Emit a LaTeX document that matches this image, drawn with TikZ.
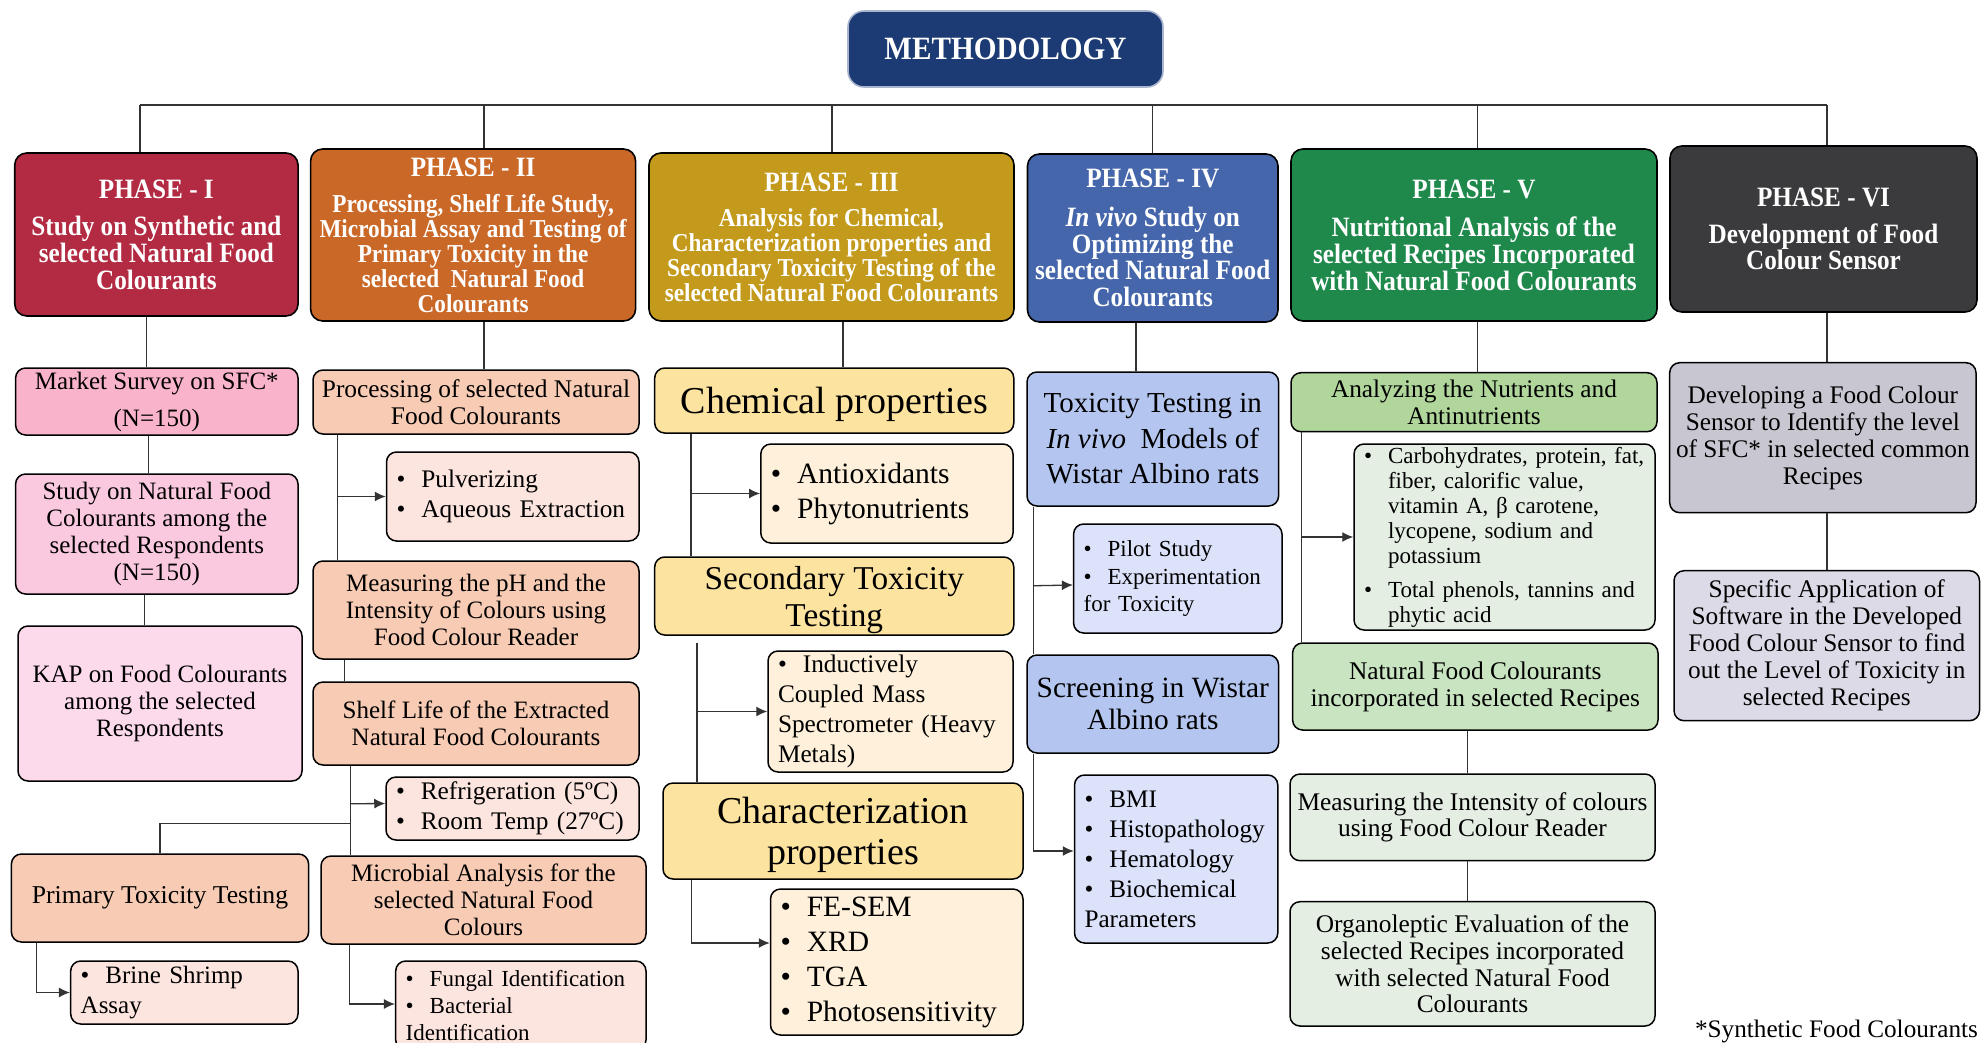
\documentclass[tikz,border=0pt]{standalone}
\usepackage{fontspec}
\setmainfont{Liberation Serif}
\newfontfamily\hdfont[FakeStretch=0.9]{Liberation Serif}
\usetikzlibrary{arrows.meta,calc}

\definecolor{MethBlue}{HTML}{1C3A73}
\definecolor{MethEdge}{HTML}{A9B4CF}
\definecolor{PhOne}{HTML}{B22B43}
\definecolor{PhTwo}{HTML}{CA6828}
\definecolor{PhThree}{HTML}{C39A1B}
\definecolor{PhFour}{HTML}{4566AA}
\definecolor{PhFive}{HTML}{1E894B}
\definecolor{PhSix}{HTML}{3B3B3D}
\definecolor{PinkA}{HTML}{F9B3CB}
\definecolor{PinkB}{HTML}{FBC9DF}
\definecolor{PinkC}{HTML}{FDD9EC}
\definecolor{PeachA}{HTML}{F7CBB4}
\definecolor{PeachB}{HTML}{FCE4DF}
\definecolor{GoldA}{HTML}{FDE3A0}
\definecolor{GoldB}{HTML}{FEF0DA}
\definecolor{BlueA}{HTML}{B4C6EF}
\definecolor{BlueB}{HTML}{DCE2FA}
\definecolor{GreenA}{HTML}{B0D69C}
\definecolor{GreenB}{HTML}{C9E4C1}
\definecolor{GreenC}{HTML}{E4EEE3}
\definecolor{GreyA}{HTML}{C8C7D1}
\definecolor{GreyB}{HTML}{DCDAE6}

\newcommand{\fs}[2]{\fontsize{#1}{#2}\selectfont}
\newcommand{\ph}{\fs{28}{24.8}}
\newcommand{\itm}{\textbullet\hspace{16pt}}
\newcommand{\ind}{\phantom{\textbullet}\hspace{16pt}}

\tikzset{
PhaseBox/.style={draw=black, rounded corners=12pt, line width=1.6pt, text=white, align=center,
        inner sep=2pt, font=\hdfont\bfseries\fs{28}{26.7}},
PhaseBoxSmall/.style={PhaseBox, font=\hdfont\bfseries\fs{25.8}{24.8}},
StepBox/.style={draw=black, rounded corners=10pt, line width=1.5pt, align=center,
        inner sep=2pt, font=\fs{25}{27}},
ListBox/.style={StepBox, align=left, inner xsep=10pt},
FlowLine/.style={draw=black!80, line width=1.3pt},
FlowArrow/.style={FlowLine, -{Latex[length=11pt,width=10pt]}},
}

\begin{document}
\begin{tikzpicture}[x=1pt,y=-1pt]
	\fill[white] (0,0) rectangle (1984,1042);
	\useasboundingbox (0,0) rectangle (1984,1042);

	\node[PhaseBox, fill=MethBlue, draw=MethEdge, rounded corners=16pt, font=\hdfont\bfseries\fs{32.5}{34},
		minimum width=315pt, minimum height=76pt] (meth) at (1005.5,49) {METHODOLOGY};

	% phases
	\node[PhaseBox, fill=PhOne, minimum width=283.3pt, minimum height=163pt] (p1) at (156.4,234.5)
		{PHASE - I\\[11pt]Study on Synthetic and\\selected Natural Food\\Colourants};
	\node[PhaseBoxSmall, fill=PhTwo, minimum width=325pt, minimum height=172pt] (p2) at (473.1,235)
		{{\ph PHASE - II}\\[12pt]Processing, Shelf Life Study,\\Microbial Assay and Testing of\\Primary Toxicity in the\\selected \ Natural Food\\Colourants};
	\node[PhaseBoxSmall, fill=PhThree, minimum width=365pt, minimum height=168pt] (p3) at (831.5,237)
		{{\ph PHASE - III}\\[11pt]Analysis for Chemical,\\Characterization properties and\\Secondary Toxicity Testing of the\\selected Natural Food Colourants};
	\node[PhaseBox, fill=PhFour, minimum width=250.5pt, minimum height=168pt] (p4) at (1152.75,238)
		{PHASE - IV\\[12pt]\textit{In vivo} Study on\\Optimizing the\\selected Natural Food\\Colourants};
	\node[PhaseBox, fill=PhFive, minimum width=366pt, minimum height=172pt] (p5) at (1474,235)
		{PHASE - V\\[12pt]Nutritional Analysis of the\\selected Recipes Incorporated\\with Natural Food Colourants};
	\node[PhaseBox, fill=PhSix, minimum width=307pt, minimum height=166pt] (p6) at (1823.5,229)
		{PHASE - VI\\[10pt]Development of Food\\Colour Sensor};

	% phase I
	\node[StepBox, fill=PinkA, minimum width=282.4pt, minimum height=67pt] (market) at (156.8,401.5)
		{Market Survey on SFC*\\[10pt](N=150)};
	\node[StepBox, fill=PinkB, minimum width=282.4pt, minimum height=120pt] (study) at (156.8,534)
		{Study on Natural Food\\Colourants among the\\selected Respondents\\(N=150)};
	\node[StepBox, fill=PinkC, minimum width=284pt, minimum height=155pt] (kap) at (160,703.5)
		{KAP on Food Colourants\\among the selected\\Respondents};
	\node[StepBox, fill=PeachA, font=\fs{25.7}{27}, minimum width=297.2pt, minimum height=88pt] (prim) at (160,898)
		{Primary Toxicity Testing};
	\node[ListBox, fill=PeachB, font=\fs{25}{30}, text width=207.3pt, minimum width=227.3pt, minimum height=63pt] (brine) at (184.35,992.5)
		{\itm Brine Shrimp\\Assay};

	% phase II
	\node[StepBox, fill=PeachA, font=\fs{25.4}{27}, minimum width=326pt, minimum height=64pt] (proc) at (476,402)
		{Processing of selected Natural\\Food Colourants};
	\node[ListBox, fill=PeachB, font=\fs{25.3}{30}, text width=232.5pt, minimum width=252.5pt, minimum height=89pt] (pulv) at (512.75,496.5)
		{\itm Pulverizing\\\itm Aqueous Extraction};
	\node[StepBox, fill=PeachA, minimum width=326pt, minimum height=98pt] (meas) at (476,610)
		{Measuring the pH and the\\Intensity of Colours using\\Food Colour Reader};
	\node[StepBox, fill=PeachA, minimum width=326pt, minimum height=83pt] (shelf) at (476,723.5)
		{Shelf Life of the Extracted\\Natural Food Colourants};
	\node[ListBox, fill=PeachB, font=\fs{25.3}{30}, text width=233pt, minimum width=253pt, minimum height=63pt] (refr) at (512.5,808.5)
		{\itm Refrigeration (5ºC)\\\itm Room Temp (27ºC)};
	\node[StepBox, fill=PeachA, minimum width=325pt, minimum height=88pt] (micro) at (483.5,900)
		{Microbial Analysis for the\\selected Natural Food\\Colours};
	\node[ListBox, fill=PeachB, font=\fs{23}{27}, text width=230.3pt, minimum width=250.3pt, minimum height=89pt] (fung) at (520.85,1005.5)
		{\itm Fungal Identification\\\itm Bacterial\\Identification};

	% phase III
	\node[StepBox, fill=GoldA, font=\fs{38}{41}, text depth=0pt, minimum width=359.1pt, minimum height=65pt] (chem) at (834.25,400.5)
		{Chemical properties};
	\node[ListBox, fill=GoldB, font=\fs{29.5}{35}, text width=232.2pt, minimum width=252.2pt, minimum height=99pt] (anti) at (886.9,493.5)
		{\itm Antioxidants\\\itm Phytonutrients};
	\node[StepBox, fill=GoldA, font=\fs{33.3}{37}, text depth=0pt, minimum width=359.1pt, minimum height=78pt] (sec) at (834.25,596)
		{Secondary Toxicity\\Testing};
	\node[ListBox, fill=GoldB, font=\fs{25.3}{30}, text width=225pt, minimum width=245pt, minimum height=121pt] (icp) at (890.5,711.5)
		{\itm Inductively\\Coupled Mass\\Spectrometer (Heavy\\Metals)};
	\node[StepBox, fill=GoldA, font=\fs{38}{41}, text depth=0pt, minimum width=360pt, minimum height=96pt] (char) at (843,831)
		{Characterization\\properties};
	\node[ListBox, fill=GoldB, font=\fs{29.5}{35}, text width=232.5pt, minimum width=252.5pt, minimum height=146pt] (fesem) at (896.75,962)
		{\itm FE-SEM\\\itm XRD\\\itm TGA\\\itm Photosensitivity};

	% phase IV
	\node[StepBox, fill=BlueA, font=\fs{29}{35.5}, minimum width=251.6pt, minimum height=134pt] (tox) at (1152.8,439)
		{Toxicity Testing in\\\textit{In vivo}\ \ Models of\\Wistar Albino rats};
	\node[ListBox, fill=BlueB, font=\fs{23}{27.5}, text width=188.4pt, minimum width=208.4pt, minimum height=109pt] (pilot) at (1177.8,578.5)
		{\itm Pilot Study\\\itm Experimentation\\for Toxicity};
	\node[StepBox, fill=BlueA, font=\fs{29.4}{32}, minimum width=251.6pt, minimum height=98pt] (screen) at (1152.8,704)
		{Screening in Wistar\\Albino rats};
	\node[ListBox, fill=BlueB, font=\fs{25.2}{30}, text width=183.3pt, minimum width=203.3pt, minimum height=168pt] (bmi) at (1176.15,859)
		{\itm BMI\\\itm Histopathology\\\itm Hematology\\\itm Biochemical\\Parameters};

	% phase V
	\node[StepBox, fill=GreenA, font=\fs{25.3}{27}, minimum width=366pt, minimum height=59pt] (anal) at (1474,402.2)
		{Analyzing the Nutrients and\\Antinutrients};
	\node[ListBox, fill=GreenC, font=\fs{23}{25}, text width=281pt, minimum width=301pt, minimum height=186pt] (carb) at (1504.5,537)
		{\itm Carbohydrates, protein, fat,\\\ind fiber, calorific value,\\\ind vitamin A, β carotene,\\\ind lycopene, sodium and\\\ind potassium\\[9pt]\itm Total phenols, tannins and\\\ind phytic acid};
	\node[StepBox, fill=GreenB, font=\fs{25.4}{27}, minimum width=365.4pt, minimum height=87pt] (nfc) at (1475.3,686.5)
		{Natural Food Colourants\\incorporated in selected Recipes};
	\node[StepBox, fill=GreenC, font=\fs{25.4}{26.7}, minimum width=365pt, minimum height=86.7pt] (mint) at (1472.5,817.35)
		{Measuring the Intensity of colours\\using Food Colour Reader};
	\node[StepBox, fill=GreenC, font=\fs{25.4}{26.7}, minimum width=365pt, minimum height=124.3pt] (org) at (1472.5,963.85)
		{Organoleptic Evaluation of the\\selected Recipes incorporated\\with selected Natural Food\\Colourants};

	% phase VI
	\node[StepBox, fill=GreyA, font=\fs{25.3}{27}, minimum width=306.3pt, minimum height=150pt] (dev) at (1822.85,437.7)
		{Developing a Food Colour\\Sensor to Identify the level\\of SFC* in selected common\\Recipes};
	\node[StepBox, fill=GreyB, font=\fs{25.3}{27}, minimum width=305.5pt, minimum height=150pt] (spec) at (1826.75,645.7)
		{Specific Application of\\Software in the Developed\\Food Colour Sensor to find\\out the Level of Toxicity in\\selected Recipes};

	\node[font=\fs{25.2}{27}, anchor=base, inner sep=0pt] (note) at (1836.5,1037) {*Synthetic Food Colourants};

	% connectors
	\coordinate (busL) at (140,105);
	\coordinate (busR) at (1827,105);
	\draw[FlowLine] (busL) -- (busR);
	\draw[FlowLine] (busL) -- (busL |- p1.north);
	\draw[FlowLine] (busR) -- (busR |- p6.north);
	\foreach \p/\dx in {p2/11,p3/0.5,p4/0,p5/3.5}
		\draw[FlowLine] ($(\p.north)+(\dx,0)$) coordinate (q) -- (q |- busL);
	\foreach \p/\c/\dx in {p1/market/-10,p2/proc/11,p3/chem/11.5,p4/tox/-16.75,p5/anal/3.5,p6/dev/3.5}
		\draw[FlowLine] ($(\p.south)+(\dx,0)$) coordinate (q) -- (q |- \c.north);

	\draw[FlowLine] ($(market.south)+(-8,0)$) coordinate (q) -- (q |- study.north);
	\draw[FlowLine] ($(study.south)+(-12,0)$) coordinate (q) -- (q |- kap.north);
	\draw[FlowArrow] ($(prim.south west)+(25.6,0)$) |- (brine.west);

	\draw[FlowLine] ($(proc.south west)+(25,0)$) coordinate (t2) -- (t2 |- meas.north);
	\draw[FlowArrow] (t2 |- pulv.west) -- (pulv.west);
	\draw[FlowLine] ($(meas.south west)+(32,0)$) coordinate (t3) -- (t3 |- shelf.north);
	\draw[FlowLine] ($(shelf.south west)+(38.5,0)$) coordinate (t4) -- (t4 |- micro.north);
	\draw[FlowArrow] ($(t4)+(0,38)$) -- ($(refr.west)+(0,-5)$);
	\draw[FlowLine] ($(t4)+(0,58)$) -| (prim.north);
	\draw[FlowArrow] ($(micro.south west)+(29,0)$) |- ($(fung.west)+(0,-1.5)$);

	\draw[FlowLine] ($(chem.south west)+(37,0)$) coordinate (t7) -- (t7 |- sec.north);
	\draw[FlowArrow] (t7 |- anti.west) -- (anti.west);
	\draw[FlowLine] ($(sec.south west)+(43,7)$) coordinate (t8) -- (t8 |- char.north);
	\draw[FlowArrow] (t8 |- icp.west) -- (icp.west);
	\draw[FlowArrow] ($(char.south west)+(29,0)$) |- ($(fesem.west)+(0,-19)$);

	\draw[FlowLine] ($(tox.south west)+(7,0)$) coordinate (t9) -- (t9 |- screen.north);
	\draw[FlowArrow] ($(t9)+(0,79)$) -- ($(pilot.west)+(0,6.5)$);
	\draw[FlowArrow] ($(screen.south west)+(7,0)$) |- ($(bmi.west)+(0,-8)$);

	\draw[FlowLine] ($(anal.south west)+(11.5,0)$) coordinate (t10) -- (t10 |- nfc.north);
	\draw[FlowArrow] (t10 |- carb.west) -- (carb.west);
	\draw[FlowLine] ($(nfc.south)+(-7.5,0)$) coordinate (t11) -- (t11 |- mint.north);
	\draw[FlowLine] ($(mint.south)+(-5,0)$) coordinate (t12) -- (t12 |- org.north);
	\draw[FlowLine] ($(dev.south)+(4,0)$) coordinate (t13) -- (t13 |- spec.north);
\end{tikzpicture}
\end{document}
